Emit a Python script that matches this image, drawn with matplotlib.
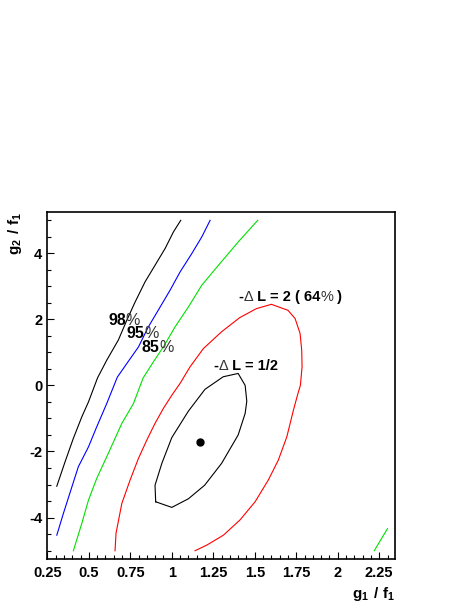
import numpy as np
import matplotlib
matplotlib.use('Agg')
import matplotlib.pyplot as plt
from matplotlib.ticker import MultipleLocator, FixedLocator

plt.rcParams.update({'font.family': 'Liberation Sans', 'font.weight': 'bold',
                     'axes.unicode_minus': False,
                     'mathtext.fontset': 'custom', 'mathtext.rm': 'Liberation Sans',
                     'mathtext.bf': 'Liberation Sans:bold'})

# contour 98% (black)
c98_x = [0.307, 0.357, 0.407, 0.458, 0.498, 0.553, 0.608, 0.678, 0.729, 0.779, 0.839, 0.899, 0.960, 1.010, 1.054]
c98_y = [-3.05, -2.31, -1.60, -0.95, -0.50, 0.23, 0.76, 1.37, 1.97, 2.52, 3.13, 3.63, 4.14, 4.64, 4.99]
# contour 95% (blue)
c95_x = [0.307, 0.347, 0.398, 0.437, 0.498, 0.548, 0.608, 0.672, 0.729, 0.799, 0.859, 0.930, 0.990, 1.050, 1.120, 1.181, 1.231]
c95_y = [-4.53, -3.87, -3.07, -2.46, -1.86, -1.25, -0.55, 0.25, 0.66, 1.16, 1.77, 2.37, 2.88, 3.43, 3.98, 4.49, 4.99]
# contour 85% (green)
c85_x = [0.407, 0.458, 0.498, 0.548, 0.608, 0.699, 0.769, 0.827, 0.889, 0.949, 1.020, 1.100, 1.181, 1.281, 1.401, 1.518]
c85_y = [-5.0, -4.17, -3.47, -2.81, -2.16, -1.15, -0.55, 0.22, 0.71, 1.16, 1.77, 2.37, 3.03, 3.63, 4.34, 4.99]
c85b_x = [2.22, 2.30]
c85b_y = [-5.0, -4.33]
# -dL = 2 (red)
c64_x = [0.658, 0.664, 0.699, 0.749, 0.799, 0.849, 0.899, 0.949, 1.0, 1.05, 1.11, 1.19, 1.30, 1.41, 1.51,
         1.60, 1.70, 1.743, 1.773, 1.783, 1.785, 1.775, 1.76, 1.733, 1.693, 1.642, 1.582, 1.502, 1.411,
         1.311, 1.211, 1.140]
c64_y = [-5.0, -4.47, -3.57, -2.86, -2.21, -1.66, -1.15, -0.70, -0.30, 0.06, 0.56, 1.11, 1.62, 2.05, 2.32,
         2.45, 2.27, 2.02, 1.57, 1.06, 0.56, 0.0, -0.25, -0.75, -1.56, -2.26, -2.86, -3.52, -4.07,
         -4.53, -4.83, -5.0]
# -dL = 1/2 (black, closed)
c50_x = [0.903, 0.899, 0.94, 1.0, 1.10, 1.20, 1.31, 1.40, 1.442, 1.452, 1.442, 1.40, 1.30, 1.198, 1.10, 1.0, 0.903]
c50_y = [-3.52, -3.02, -2.36, -1.58, -0.78, -0.12, 0.26, 0.36, 0.0, -0.48, -0.85, -1.50, -2.36, -3.02, -3.43, -3.69, -3.52]
best_x, best_y = 1.168, -1.70

fig = plt.figure(figsize=(4.69, 6.07), dpi=100)
ax = fig.add_axes([0.1009, 0.0791, 0.742, 0.5721])

lw = 0.8
ax.plot(c98_x, c98_y, color='black', lw=lw)
ax.plot(c95_x, c95_y, color='#0000ff', lw=lw)
ax.plot(c85_x, c85_y, color='#00e000', lw=lw)
ax.plot(c85b_x, c85b_y, color='#00e000', lw=lw)
ax.plot(c64_x, c64_y, color='#ff0000', lw=lw)
ax.plot(c50_x, c50_y, color='black', lw=lw)
ax.plot([best_x], [best_y], 'o', color='black', ms=5)

ax.set_xlim(0.25, 2.347)
ax.set_ylim(-5.25, 5.25)


def label(x, y, parts, size):
    # parts: (text, bold?) pieces written one after another on one baseline
    prev = None
    for txt, bold in parts:
        kw = dict(fontsize=size, fontweight='bold' if bold else 'normal',
                  color='black' if bold else '#333333', ha='left')
        if prev is None:
            prev = ax.text(x, y, txt, va='baseline', **kw)
        else:
            prev = ax.annotate(txt, xy=(1, 0), xycoords=prev, va='bottom', **kw)


label(0.616, 1.82, [('98', True), ('%', False)], 11.5)
label(0.728, 1.43, [('95', True), ('%', False)], 11.5)
label(0.819, 1.01, [('85', True), ('%', False)], 11.5)
label(1.401, 2.56, [('-', True), ('Δ', False), (' L = 2 ( 64', True), ('%', False), (' )', True)], 10.5)
label(1.251, 0.46, [('-', True), ('Δ', False), (' L = 1/2', True)], 10.5)

ax.xaxis.set_major_locator(FixedLocator(np.arange(0.25, 2.3, 0.25)))
ax.xaxis.set_minor_locator(MultipleLocator(0.05))
ax.yaxis.set_major_locator(MultipleLocator(2))
ax.yaxis.set_minor_locator(MultipleLocator(0.5))
ax.set_xticklabels(['0.25', '0.5', '0.75', '1', '1.25', '1.5', '1.75', '2', '2.25'])
ax.tick_params(which='both', direction='in', top=False, right=False, labelsize=10.5, width=0.8)
ax.tick_params(which='major', length=5)
ax.tick_params(which='minor', length=2.8)
ax.tick_params(axis='x', pad=5)
for t in ax.get_xticklabels() + ax.get_yticklabels():
    t.set_fontweight('bold')
for s in ax.spines.values():
    s.set_linewidth(1.2)

ax.set_xlabel(r'$\mathbf{g_1\ /\ f_1}$', fontsize=11, ha='right', x=1.0, labelpad=4)
ax.set_ylabel(r'$\mathbf{g_2\ /\ f_1}$', fontsize=11, ha='right', y=1.0, labelpad=4)

fig.savefig('out.png', dpi=100)
